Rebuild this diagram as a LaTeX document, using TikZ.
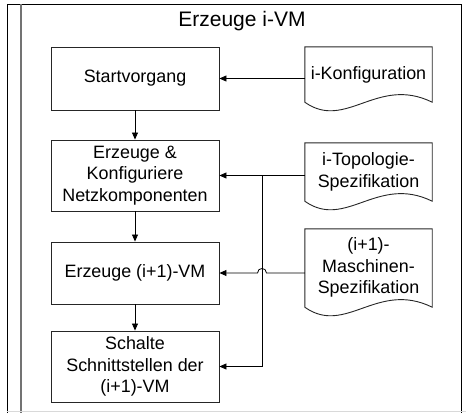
\documentclass[tikz,border=0pt]{standalone}
\usepackage{fontspec}
\setmainfont{Liberation Sans}
\usetikzlibrary{arrows.meta,calc}
\begin{document}
\begin{tikzpicture}[x=1pt,y=-1pt,
  procbox/.style={draw=black!85,line width=0.9pt,inner sep=0pt,minimum width=168pt,align=center,
    font=\fontsize{17.9}{21.5}\selectfont},
  docbox/.style={inner sep=0pt,minimum width=127pt,align=center,
    font=\fontsize{17.9}{21.5}\selectfont},
  docline/.style={draw=black!85,line width=0.9pt},
  conn/.style={draw=black,line width=0.8pt,-{Triangle[length=7pt,width=6pt]}},
  plain/.style={draw=black,line width=0.8pt}]
\useasboundingbox (0,0) rectangle (466,413);
% frame
\draw[black,line width=1pt] (7,4) -- (462,4);
\draw[black,line width=1pt] (7.5,4) -- (7.5,413);
\draw[black!55,line width=1.8pt] (21,4) -- (21,413);
\draw[black,line width=1pt] (461,4) -- (461,413);
\draw[black!15,line width=1pt] (7,411.5) -- (466,411.5);
% title
\node[font=\fontsize{21}{25}\selectfont] (title) at (242,21.5) {Erzeuge i-VM};
% process boxes
\node[procbox,minimum height=63pt] (start) at (135,78.5) {Startvorgang};
\node[procbox,minimum height=71pt] (ek) at (135,175.5) {Erzeuge \&\\Konfiguriere\\Netzkomponenten};
\node[procbox,minimum height=62pt] (evm) at (135,273) {Erzeuge (i+1)-VM};
\node[procbox,minimum height=71pt] (sch) at (135,366.5) {Schalte\\Schnittstellen der\\(i+1)-VM};
% documents
\node[docbox,minimum height=55pt] (konf) at (368.5,74.5) {\raisebox{2pt}{i-Konfiguration}};
\node[docbox,minimum height=58pt] (topo) at (368.5,172) {i-Topologie-\\Spezifikation};
\node[docbox,minimum height=78pt] (masch) at (368.5,268) {\raisebox{3pt}{\begin{tabular}{@{}c@{}}(i+1)-\\Maschinen-\\Spezifikation\end{tabular}}};
\foreach \n in {konf,topo,masch}{
  \draw[docline] (\n.south west) -- (\n.north west) -- (\n.north east) -- (\n.south east)
    .. controls ($(\n.south east)+(-55,-27)$) and ($(\n.south west)+(41,29)$) .. (\n.south west) -- cycle;
}
% flow arrows
\draw[conn] (start) -- (ek);
\draw[conn] (ek) -- (evm);
\draw[conn] (evm) -- (sch);
% inputs
\coordinate (bx) at (262,0);
\draw[conn] (konf.west |- start.east) -- (start.east);
\draw[conn] (topo.west |- ek.east) -- (ek.east);
\draw[conn] (bx |- ek.east) |- (sch.east);
\draw[conn] (masch.west |- evm.east) -- ([xshift=4.5pt]bx |- evm.east)
  .. controls +(0,-6) and +(0,-6) .. ([xshift=-4.5pt]bx |- evm.east) -- (evm.east);
\end{tikzpicture}
\end{document}
